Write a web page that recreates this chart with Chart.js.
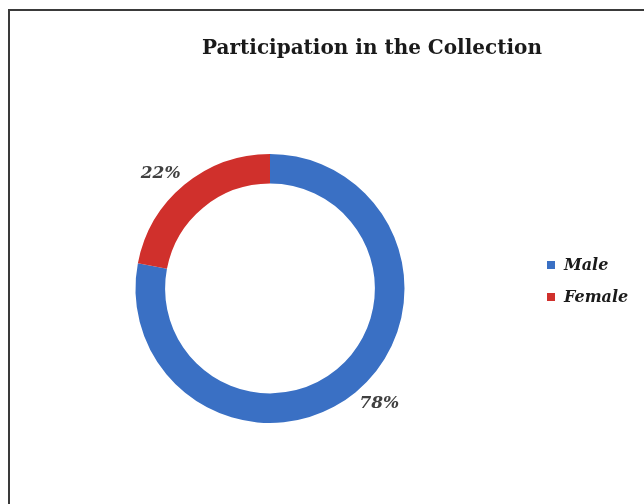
<!DOCTYPE html>
<html>
<head>
<meta charset="utf-8">
<script src="https://cdn.jsdelivr.net/npm/chart.js@4.4.1/dist/chart.umd.min.js"></script>
<style>
    html, body { margin: 0; padding: 0; background: #fff; overflow: hidden; }
    #wrap { position: relative; width: 644px; height: 504px; overflow: hidden; }
    .edge { position: absolute; background: #3a3a3a; }
    #edgeTop { left: 8px; top: 9px; width: 636px; height: 2px; }
    #edgeLeft { left: 8px; top: 9px; width: 2px; height: 495px; }
    canvas { position: absolute; left: 0; top: 0; }
</style>
</head>
<body>
<div id="wrap">
    <div class="edge" id="edgeTop"></div>
    <div class="edge" id="edgeLeft"></div>
    <canvas id="pieChart" width="644" height="504"></canvas>
</div>
<script>
// chart data
const titleText = 'Participation in the Collection';
const categories = ['Male', 'Female'];
const shares = [78, 22];
const sliceColors = ['#3a70c4', '#d0302c'];

const serif = '"DejaVu Serif", "Liberation Serif", serif';

// title, % labels and legend drawn on the canvas
const extrasPlugin = {
    id: 'extras',
    afterDatasetsDraw(chart) {
        const ctx = chart.ctx;
        ctx.save();

        // title
        ctx.fillStyle = '#1a1a1a';
        ctx.font = 'bold 20px ' + serif;
        ctx.textAlign = 'center';
        ctx.textBaseline = 'middle';
        ctx.fillText(titleText, 372, 49);

        // percent labels outside the ring
        const meta = chart.getDatasetMeta(0);
        ctx.fillStyle = '#404040';
        ctx.font = 'italic bold 17px ' + serif;
        meta.data.forEach((arc, i) => {
            const mid = (arc.startAngle + arc.endAngle) / 2 - 0.07;
            const r = arc.outerRadius + 24;
            ctx.fillText(shares[i] + '%', arc.x + Math.cos(mid) * r, arc.y + Math.sin(mid) * r);
        });

        // legend
        ctx.textAlign = 'left';
        ctx.font = 'italic bold 16px ' + serif;
        categories.forEach((name, i) => {
            const y = 265 + i * 32;
            ctx.fillStyle = sliceColors[i];
            ctx.fillRect(547, y - 4, 8, 8);
            ctx.fillStyle = '#1a1a1a';
            ctx.fillText(name, 564, y + 1);
        });

        ctx.restore();
    }
};

new Chart(document.getElementById('pieChart').getContext('2d'), {
    type: 'doughnut',
    data: {
        labels: categories,
        datasets: [{
            data: shares,
            backgroundColor: sliceColors,
            borderWidth: 0
        }]
    },
    options: {
        responsive: false,
        animation: false,
        cutout: '78%',
        layout: { padding: { left: 2, right: 106, top: 154, bottom: 81 } },
        plugins: {
            legend: { display: false },
            title: { display: false },
            tooltip: { enabled: false }
        }
    },
    plugins: [extrasPlugin]
});
</script>
</body>
</html>
